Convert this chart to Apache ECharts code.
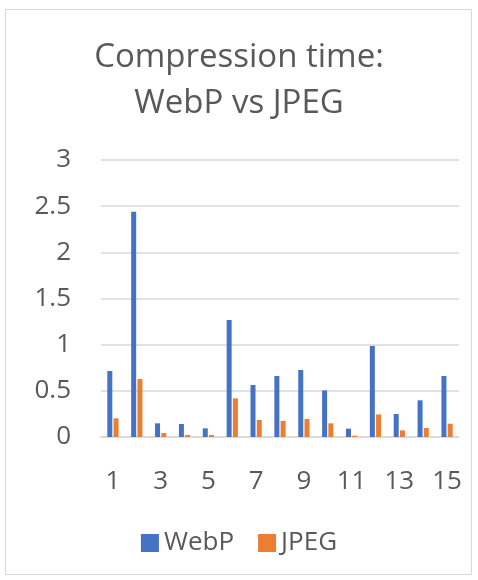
<!DOCTYPE html>
<html>
<head>
<meta charset="utf-8">
<script src="https://cdn.jsdelivr.net/npm/echarts@6/dist/echarts.min.js"></script>
<style>
    html, body { margin: 0; padding: 0; background: #fff; }
    #chart { width: 478px; height: 580px; }
</style>
</head>
<body>
<div id="chart"></div>
<script>
(function () {

    // data
    var categories = ['1', '2', '3', '4', '5', '6', '7', '8', '9', '10', '11', '12', '13', '14', '15'];
    var webpTimes = [0.715, 2.44, 0.148, 0.141, 0.094, 1.267, 0.563, 0.661, 0.726, 0.505, 0.09, 0.986, 0.249, 0.397, 0.661];
    var jpegTimes = [0.202, 0.628, 0.043, 0.022, 0.022, 0.419, 0.184, 0.173, 0.195, 0.148, 0.014, 0.245, 0.072, 0.097, 0.144];

    var textColor = '#595959';
    var font = 'Open Sans';

    var option = {
        backgroundColor: '#fff',
        animation: false,
        title: {
            text: 'Compression time:\nWebP vs JPEG',
            left: 'center',
            top: 30,
            textStyle: {
                color: textColor,
                fontFamily: font,
                fontWeight: 'normal',
                fontSize: 33,
                lineHeight: 46
            }
        },
        legend: {
            bottom: 19,
            left: 'center',
            itemWidth: 18,
            itemHeight: 18,
            itemGap: 24,
            icon: 'rect',
            textStyle: {
                color: textColor,
                fontFamily: font,
                fontSize: 26
            },
            data: ['WebP', 'JPEG']
        },
        grid: {
            left: 101,
            right: 19,
            top: 160,
            bottom: 143,
            containLabel: false
        },
        xAxis: {
            type: 'category',
            data: categories,
            axisLine: { lineStyle: { color: '#d9d9d9', width: 1.5 } },
            axisTick: { show: false },
            axisLabel: {
                interval: 1,
                color: textColor,
                fontFamily: font,
                fontSize: 26,
                margin: 32
            }
        },
        yAxis: {
            type: 'value',
            min: 0,
            max: 3,
            interval: 0.5,
            axisLine: { show: false },
            axisTick: { show: false },
            splitLine: { lineStyle: { color: '#d9d9d9', width: 1.5 } },
            axisLabel: {
                color: textColor,
                fontFamily: font,
                fontSize: 26,
                margin: 30
            }
        },
        series: [{
            name: 'WebP',
            type: 'bar',
            data: webpTimes,
            barWidth: 5,
            barGap: '25%',
            itemStyle: { color: '#4472C4' }
        }, {
            name: 'JPEG',
            type: 'bar',
            data: jpegTimes,
            barWidth: 5,
            itemStyle: { color: '#ED7D31' }
        }],
        graphic: [{
            type: 'rect',
            shape: { x: 5.5, y: 9.5, width: 466, height: 565 },
            style: { fill: 'none', stroke: '#d9d9d9', lineWidth: 1 },
            silent: true
        }]
    };

    var chart = echarts.init(document.getElementById('chart'));
    chart.setOption(option);

})();
</script>
</body>
</html>
